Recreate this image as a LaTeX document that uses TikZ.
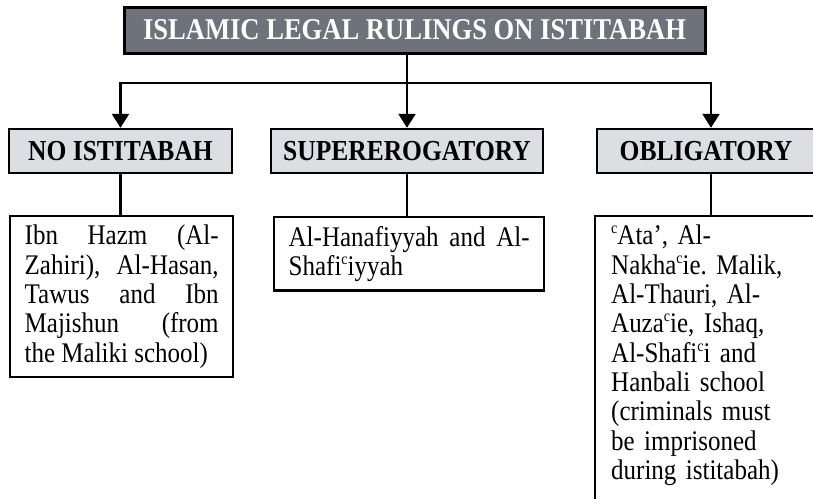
\documentclass[tikz,border=0pt]{standalone}
\usepackage{fontspec}
\setmainfont{Liberation Serif}[FakeStretch=0.88]
\usetikzlibrary{arrows.meta}
\definecolor{titlegray}{HTML}{6E727B}
\definecolor{headgray}{HTML}{DDDEE3}
\newcommand{\ainsup}{\raisebox{11pt}{\fontsize{16}{16}\selectfont c}}
\frenchspacing
\begin{document}
\begin{tikzpicture}[x=1pt,y=-1pt,
  titlebox/.style={draw=black, line width=3pt, fill=titlegray, text=white, inner sep=0pt,
    minimum width=581pt, minimum height=46pt, font=\bfseries\fontsize{30.2}{32}\selectfont},
  headbox/.style={draw=black, line width=2.4pt, fill=headgray, inner sep=0pt,
    minimum height=44pt, font=\bfseries\fontsize{29}{30}\selectfont},
  bodytext/.style={inner xsep=14.5pt, inner ysep=9pt, anchor=north west,
    font=\fontsize{28.4}{29.3}\selectfont},
  bodybox/.style={bodytext, draw=black, line width=2.4pt, fill=white},
  conn/.style={draw=black, line width=2.4pt},
  arr/.style={conn, -{Triangle[width=17pt,length=14pt]}}]
\useasboundingbox (0,0) rectangle (813,498);
\clip (0,0) rectangle (813,498);

\node[titlebox] (title) at (414.5,30) {ISLAMIC LEGAL RULINGS ON ISTITABAH};

\node[headbox, minimum width=223pt] (h1) at (120.5,151) {NO ISTITABAH};
\node[headbox, minimum width=272pt] (h2) at (407,151) {SUPEREROGATORY};
\node[headbox, minimum width=228pt] (h3) at (711,151) {\hspace*{-10pt}OBLIGATORY};

\node[bodybox, text width=194pt, align=justify] (c1) at (9,215)
  {Ibn Hazm (Al-\linebreak Zahiri), Al-Hasan,\linebreak Tawus and Ibn\linebreak Majishun (from\linebreak the Maliki school)};
\node[bodybox, text width=241pt, align=justify] (c2) at (273,216)
  {Al-Hanafiyyah and Al-\linebreak Shafi\ainsup iyyah};
\node[bodytext, inner xsep=16pt, text width=200pt, align=left] (c3) at (595,216)
  {\ainsup Ata', Al-\\ Nakha\ainsup ie. Malik,\\ Al-Thauri, Al-\\
   Auza\ainsup ie, Ishaq,\\ Al-Shafi\ainsup i and\\ Hanbali school\\
   (criminals must\\ be imprisoned\\ during istitabah)};
\draw[conn] (c3.north west) ++(0,320) -- (c3.north west) -- ++(260,0);

\coordinate (split) at (h2.north |- 0,83);
\draw[conn] (title.south -| split) -- (split);
\draw[arr] (split) -- (h2.north);
\draw[arr] (split) -| (h1.north);
\draw[arr] (split) -| (h3.north);

\draw[conn] (h1.south) -- (h1.south |- c1.north);
\draw[conn] (h2.south) -- (h2.south |- c2.north);
\draw[conn] (h3.south) -- (h3.south |- c3.north);
\end{tikzpicture}
\end{document}
